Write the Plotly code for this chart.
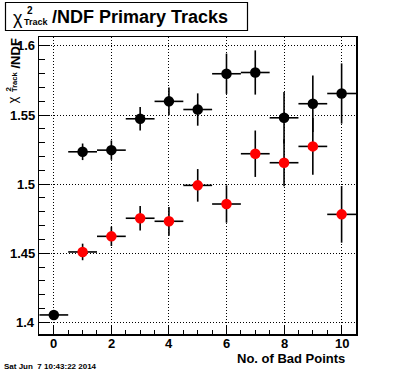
import plotly.graph_objects as go

# ---- data ----
black_x = [0, 1, 2, 3, 4, 5, 6, 7, 8, 9, 10]
black_y = [1.4053, 1.5234, 1.5246, 1.5473, 1.5599, 1.5540, 1.5799, 1.5808, 1.5480, 1.5582, 1.5656]
black_err = [0.003, 0.006, 0.007, 0.0085, 0.010, 0.0117, 0.0146, 0.016, 0.0186, 0.0205, 0.0218]

red_x = [1, 2, 3, 4, 5, 6, 7, 8, 9, 10]
red_y = [1.4509, 1.4622, 1.4753, 1.4731, 1.4991, 1.4856, 1.5220, 1.5155, 1.5273, 1.4781]
red_err = [0.006, 0.007, 0.0088, 0.0104, 0.0118, 0.0135, 0.0168, 0.017, 0.0205, 0.0205]

x_tick_vals = [0, 2, 4, 6, 8, 10]
x_tick_text = ["0", "2", "4", "6", "8", "10"]
y_tick_vals = [1.4, 1.45, 1.5, 1.55, 1.6]
y_tick_text = ["1.4", "1.45", "1.5", "1.55", "1.6"]

x_err = 0.5
x_title = "No. of Bad Points"
title_rest = "/NDF Primary Tracks"
date_text = "Sat Jun  7 10:43:22 2014"

W, H = 396, 372
L, R, T, B = 39, 356, 37, 334  # plot frame in pixels
FONT = "Liberation Sans"


def px(x):
    return (x - L) / (R - L)


def py(y):
    return (B - y) / (B - T)


def series(xs, ys, errs, color):
    return go.Scatter(
        x=xs, y=ys, mode="markers",
        marker=dict(color=color, size=10.5, line=dict(width=0)),
        error_x=dict(type="constant", value=x_err, width=0, thickness=1.6, color="black"),
        error_y=dict(type="data", array=errs, width=0, thickness=1.6, color="black"),
        showlegend=False, cliponaxis=True, hoverinfo="skip",
    )


fig = go.Figure()
fig.add_trace(series(black_x, black_y, black_err, "black"))
fig.add_trace(series(red_x, red_y, red_err, "#ff0000"))

DOT = "1px,2px"
fig.update_xaxes(
    range=[-0.515, 10.5], tickvals=x_tick_vals, showticklabels=False,
    ticks="inside", ticklen=8, tickwidth=1, automargin=False,
    tickcolor="black", showline=True, linecolor="black", linewidth=1.5, mirror=True,
    showgrid=True, gridcolor="black", gridwidth=1, griddash=DOT, zeroline=False,
    minor=dict(dtick=0.5, ticks="inside", ticklen=4, tickcolor="black", tickwidth=1, showgrid=False),
)
fig.update_yaxes(
    range=[1.3915, 1.6065], tickvals=y_tick_vals, showticklabels=False,
    ticks="inside", ticklen=11, tickwidth=1, automargin=False,
    tickcolor="black", showline=True, linecolor="black", linewidth=1.5, mirror=True,
    showgrid=True, gridcolor="black", gridwidth=1, griddash=DOT, zeroline=False,
    minor=dict(dtick=0.01, ticks="inside", ticklen=6, tickcolor="black", tickwidth=1, showgrid=False),
)

ann = []


def add_text(text, x, y, size, bold=True, xanchor="center", angle=0):
    ann.append(dict(
        text=text, x=px(x), y=py(y), xref="paper", yref="paper", showarrow=False,
        xanchor=xanchor, yanchor="middle", textangle=angle, borderpad=0,
        font=dict(family=FONT, size=size, color="black", weight="bold" if bold else "normal"),
    ))


# tick labels (positioned through the axes' scales)
for v, t in zip(x_tick_vals, x_tick_text):
    ann.append(dict(text=t, x=v, y=py(343.5), xref="x", yref="paper", showarrow=False,
                    xanchor="center", yanchor="middle", borderpad=0,
                    font=dict(family=FONT, size=13, color="black", weight="bold")))
for v, t in zip(y_tick_vals, y_tick_text):
    ann.append(dict(text=t, x=px(36), y=v, xref="paper", yref="y", showarrow=False,
                    xanchor="right", yanchor="middle", borderpad=0,
                    font=dict(family=FONT, size=13, color="black", weight="bold")))

# title
add_text("χ", 18, 18, 18, bold=False)
add_text("2", 29.5, 10, 10)
add_text("Track", 36.5, 22.5, 9)
add_text(title_rest, 51, 17, 18, xanchor="left")

# y-axis title (rotated)
add_text("χ", 11.5, 100, 13, bold=False, angle=-90)
add_text("2", 7.5, 89, 8, angle=-90)
add_text("Track", 14, 82, 7.5, angle=-90)
add_text("/NDF", 15, 53.5, 13, angle=-90)

# x-axis title
add_text(x_title, 346, 358.5, 13, xanchor="right")

# date
add_text(date_text, 3, 366, 8, xanchor="left")

fig.update_layout(
    width=W, height=H, autosize=False,
    margin=dict(l=L, r=W - R, t=T, b=H - B, pad=0),
    paper_bgcolor="white", plot_bgcolor="white",
    annotations=ann, hovermode=False,
    shapes=[dict(type="rect", xref="paper", yref="paper",
                 x0=px(5.5), x1=px(247.5), y0=py(2.5), y1=py(30.5),
                 line=dict(color="black", width=1.2), fillcolor="rgba(0,0,0,0)")],
)

fig.write_html("out.html", config={"displayModeBar": False, "staticPlot": True},
               post_script="document.body.style.margin='0';document.body.style.overflow='hidden';")
